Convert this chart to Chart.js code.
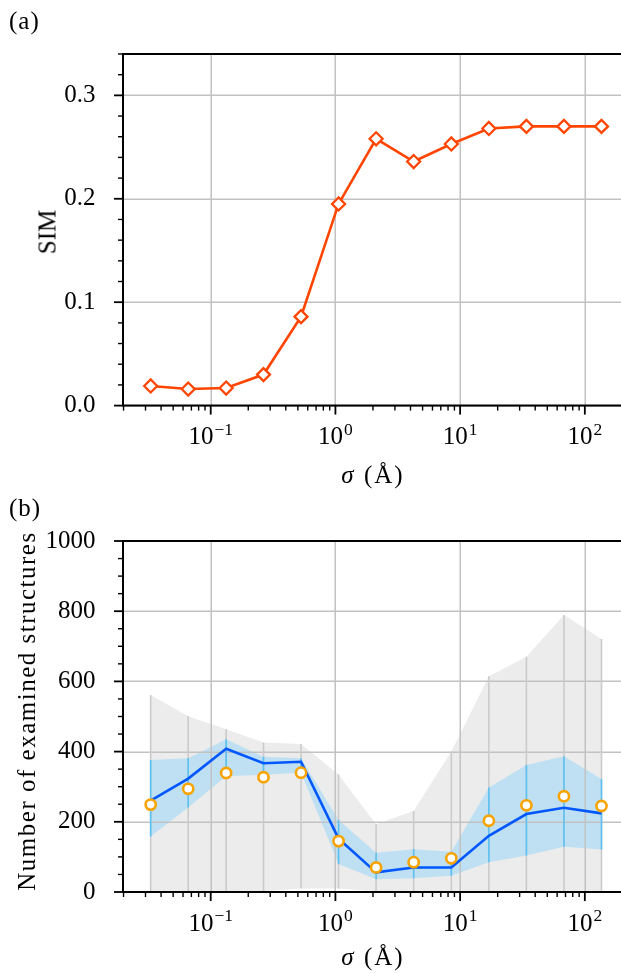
<!DOCTYPE html>
<html>
<head>
<meta charset="utf-8">
<script src="https://cdn.jsdelivr.net/npm/chart.js@4.4.1/dist/chart.umd.min.js"></script>
<style>
  html, body { margin: 0; padding: 0; background: #fff; }
  body { width: 621px; height: 973px; position: relative; overflow: hidden;
         font-family: "Liberation Serif", "Times New Roman", serif; color: #000; }
  canvas { position: absolute; left: 0; }
  #simChart { top: 0; }
  #countChart { top: 490px; }
  .lbl { position: absolute; font-size: 25px; line-height: 25px; white-space: nowrap; }
  .rot { transform: translate(-50%, -50%) rotate(-90deg); }
  .ctr { transform: translate(-50%, -50%); }
</style>
</head>
<body>
<canvas id="simChart" width="621" height="490"></canvas>
<canvas id="countChart" width="621" height="483"></canvas>

<div class="lbl" style="left:9px;top:8px;letter-spacing:1px">(a)</div>
<div class="lbl rot" style="left:47px;top:232px">SIM</div>
<div class="lbl ctr" style="left:373px;top:474px;letter-spacing:2px"><i>σ</i> (Å)</div>

<div class="lbl" style="left:9px;top:495px;letter-spacing:1px">(b)</div>
<div class="lbl rot" style="left:26px;top:711px;letter-spacing:1.5px">Number of examined structures</div>
<div class="lbl ctr" style="left:373px;top:956px;letter-spacing:2px"><i>σ</i> (Å)</div>

<script>
// Smearing width sigma (Å), one entry per evaluated setting
const sigma = [0.033, 0.066, 0.133, 0.265, 0.53, 1.06, 2.12, 4.24, 8.5, 17, 34, 68, 136];

// (a) similarity score per sigma
const simValues = [0.019, 0.016, 0.017, 0.030, 0.086, 0.195, 0.258, 0.236, 0.253, 0.268, 0.270, 0.270, 0.270];

// (b) number of examined structures per sigma
const countMin    = [2, 2, 2, 2, 10, 10, 2, 2, 2, 2, 2, 2, 2];
const countMax    = [561, 501, 464, 426, 422, 335, 193, 231, 400, 615, 670, 789, 721];
const countLow    = [158, 241, 330, 334, 340, 80, 36, 39, 46, 85, 104, 129, 121];
const countHigh   = [376, 381, 435, 385, 381, 205, 112, 122, 115, 298, 362, 387, 322];
const countMean   = [260, 323, 408, 367, 371, 152, 56, 70, 70, 160, 222, 240, 224];
const countMedian = [249, 294, 339, 327, 340, 145, 70, 85, 96, 203, 247, 273, 245];

// Axis ticks
const xRange = [0.0198, 195];
const xDecades = [0.1, 1, 10, 100];
const xDecadeExps = ['\u22121', '0', '1', '2'];
const simTicks = [0, 0.1, 0.2, 0.3];
const simTickLabels = ['0.0', '0.1', '0.2', '0.3'];
const simMinorStep = 0.02;
const simRange = [0, 0.34];
const countTicks = [0, 200, 400, 600, 800, 1000];
const countTickLabels = ['0', '200', '400', '600', '800', '1000'];
const countMinorStep = 50;
const countRange = [0, 1000];

const FONT = '"Liberation Serif", "Times New Roman", serif';
const GRID = '#c2c2c2';

function pts(ys) { return sigma.map((s, i) => ({ x: s, y: ys[i] })); }
function spans(lo, hi) { return sigma.map((s, i) => ({ x: s, y: [lo[i], hi[i]] })); }

function logTicks(scale) {
  const out = [];
  for (let e = -3; e <= 3; e++) {
    for (let m = 1; m <= 9; m++) {
      const v = m * Math.pow(10, e);
      if (v >= scale.min && v <= scale.max) out.push({ value: v, isMajor: m === 1 });
    }
  }
  scale.ticks = out;
}

function linTicks(majors, step) {
  return function (scale) {
    const out = [];
    const n = Math.round((scale.max - scale.min) / step);
    for (let k = 0; k <= n; k++) {
      const v = scale.min + k * step;
      const mi = majors.findIndex(m => Math.abs(m - v) < step * 1e-3);
      out.push({ value: mi >= 0 ? majors[mi] : v, isMajor: mi >= 0 });
    }
    scale.ticks = out;
  };
}

function noPad(s) { s.paddingLeft = 0; s.paddingRight = 0; s.paddingTop = 0; s.paddingBottom = 0; }

function xScale(axisHeight) {
  return {
    type: 'logarithmic', min: xRange[0], max: xRange[1], bounds: 'data', offset: false,
    afterBuildTicks: logTicks,
    afterFit: s => { s.height = axisHeight; noPad(s); },
    ticks: { display: false, autoSkip: false },
    grid: { display: false, offset: false },
    border: { display: false }
  };
}

function yScale(range, majors, labels, step) {
  return {
    type: 'linear', min: range[0], max: range[1], bounds: 'data',
    afterBuildTicks: linTicks(majors, step),
    afterFit: s => { s.width = 123; noPad(s); },
    ticks: {
      autoSkip: false, padding: 19.5, color: '#000',
      font: { family: FONT, size: 25 },
      callback: function (v) {
        const i = majors.findIndex(m => Math.abs(m - v) < step * 1e-3);
        return i >= 0 ? labels[i] : '';
      }
    },
    grid: { display: false },
    border: { display: false }
  };
}

function drawGrid(chart) {
  const { ctx, chartArea: a, scales: { x, y } } = chart;
  ctx.save();
  ctx.strokeStyle = GRID;
  ctx.lineWidth = 1.5;
  ctx.beginPath();
  x.ticks.forEach(t => {
    if (!t.isMajor) return;
    const px = Math.round(x.getPixelForValue(t.value)) + 0.25;
    ctx.moveTo(px, a.top); ctx.lineTo(px, a.bottom);
  });
  y.ticks.forEach(t => {
    if (!t.isMajor) return;
    const py = Math.round(y.getPixelForValue(t.value)) + 0.25;
    ctx.moveTo(a.left, py); ctx.lineTo(a.right, py);
  });
  ctx.stroke();
  ctx.restore();
}

function drawFrame(chart) {
  const { ctx, chartArea: a, scales: { x, y } } = chart;
  ctx.save();
  ctx.strokeStyle = '#000';
  x.ticks.forEach(t => {
    const px = x.getPixelForValue(t.value);
    ctx.lineWidth = t.isMajor ? 1.8 : 1.4;
    ctx.beginPath();
    ctx.moveTo(px, a.bottom);
    ctx.lineTo(px, a.bottom + (t.isMajor ? 9 : 5));
    ctx.stroke();
  });
  y.ticks.forEach(t => {
    const py = y.getPixelForValue(t.value);
    ctx.lineWidth = t.isMajor ? 1.8 : 1.4;
    ctx.beginPath();
    ctx.moveTo(a.left, py);
    ctx.lineTo(a.left - (t.isMajor ? 9 : 5), py);
    ctx.stroke();
  });
  ctx.lineWidth = 2;
  ctx.beginPath();
  ctx.moveTo(a.left, a.bottom + 1); ctx.lineTo(a.left, a.top - 1);
  ctx.moveTo(a.left - 1, a.top); ctx.lineTo(a.right, a.top);
  ctx.moveTo(a.left - 1, a.bottom); ctx.lineTo(a.right, a.bottom);
  ctx.stroke();

  // decade labels 10^n on the log axis
  ctx.fillStyle = '#000';
  ctx.textBaseline = 'alphabetic';
  ctx.textAlign = 'left';
  const base = a.bottom + 38.5;
  xDecades.forEach((v, i) => {
    const px = x.getPixelForValue(v);
    ctx.font = '25px ' + FONT;
    const wb = ctx.measureText('10').width;
    ctx.font = '17.5px ' + FONT;
    const we = ctx.measureText(xDecadeExps[i]).width;
    const left = px - (wb + 1 + we) / 2;
    ctx.font = '25px ' + FONT;
    ctx.fillText('10', left, base);
    ctx.font = '17.5px ' + FONT;
    ctx.fillText(xDecadeExps[i], left + wb + 1, base - 9.5);
  });
  ctx.restore();
}

const framePlugin = {
  id: 'frame',
  beforeDatasetsDraw(chart, args, opts) { if (opts.gridBefore === 'all') drawGrid(chart); },
  beforeDatasetDraw(chart, args, opts) { if (opts.gridBefore === args.index) drawGrid(chart); },
  afterDraw(chart) { drawFrame(chart); }
};

const common = {
  responsive: false, animation: false, events: [], devicePixelRatio: 1
};

// (a) SIM versus sigma
new Chart(document.getElementById('simChart'), {
  type: 'line',
  data: {
    datasets: [{
      data: pts(simValues),
      borderColor: '#ff4500', borderWidth: 2.6, tension: 0,
      pointStyle: 'rectRot', pointRadius: 6.5, pointBorderWidth: 2.3,
      pointBackgroundColor: '#fff', pointBorderColor: '#ff4500'
    }]
  },
  options: Object.assign({}, common, {
    layout: { autoPadding: false, padding: { top: 54, left: 0, right: 0, bottom: 0 } },
    plugins: { legend: { display: false }, tooltip: { enabled: false }, frame: { gridBefore: 'all' } },
    scales: {
      x: xScale(490 - 405.6),
      y: yScale(simRange, simTicks, simTickLabels, simMinorStep)
    }
  }),
  plugins: [framePlugin]
});

// (b) examined structures versus sigma
const hidden = { borderColor: 'transparent', borderWidth: 0, pointRadius: 0, tension: 0 };
new Chart(document.getElementById('countChart'), {
  type: 'line',
  data: {
    datasets: [
      { label: 'median', data: pts(countMedian), showLine: false, order: 1,
        pointStyle: 'circle', pointRadius: 5.1, pointBorderWidth: 2.6,
        pointBackgroundColor: '#fff', pointBorderColor: '#f8a300' },
      { label: 'mean', data: pts(countMean), order: 2, tension: 0,
        borderColor: '#0057ff', borderWidth: 2.6, pointRadius: 0 },
      { type: 'bar', label: 'spread', data: spans(countLow, countHigh), order: 3,
        grouped: false, barThickness: 1.6, borderWidth: 0, inflateAmount: 0,
        backgroundColor: '#58c2f4' },
      { type: 'bar', label: 'range', data: spans(countMin, countMax), order: 4,
        grouped: false, barThickness: 1.6, borderWidth: 0, inflateAmount: 0,
        backgroundColor: '#cbcbcb' },
      Object.assign({ label: 'spread high', data: pts(countHigh), order: 5,
        fill: 5, backgroundColor: '#bfe0f2' }, hidden),
      Object.assign({ label: 'spread low', data: pts(countLow), order: 6, fill: false }, hidden),
      Object.assign({ label: 'max', data: pts(countMax), order: 7,
        fill: 7, backgroundColor: '#ececec' }, hidden),
      Object.assign({ label: 'min', data: pts(countMin), order: 8, fill: false }, hidden)
    ]
  },
  options: Object.assign({}, common, {
    layout: { autoPadding: false, padding: { top: 51, left: 0, right: 0, bottom: 0 } },
    plugins: { legend: { display: false }, tooltip: { enabled: false }, frame: { gridBefore: 3 } },
    scales: {
      x: xScale(483 - 402),
      y: yScale(countRange, countTicks, countTickLabels, countMinorStep)
    }
  }),
  plugins: [framePlugin]
});
</script>
</body>
</html>
